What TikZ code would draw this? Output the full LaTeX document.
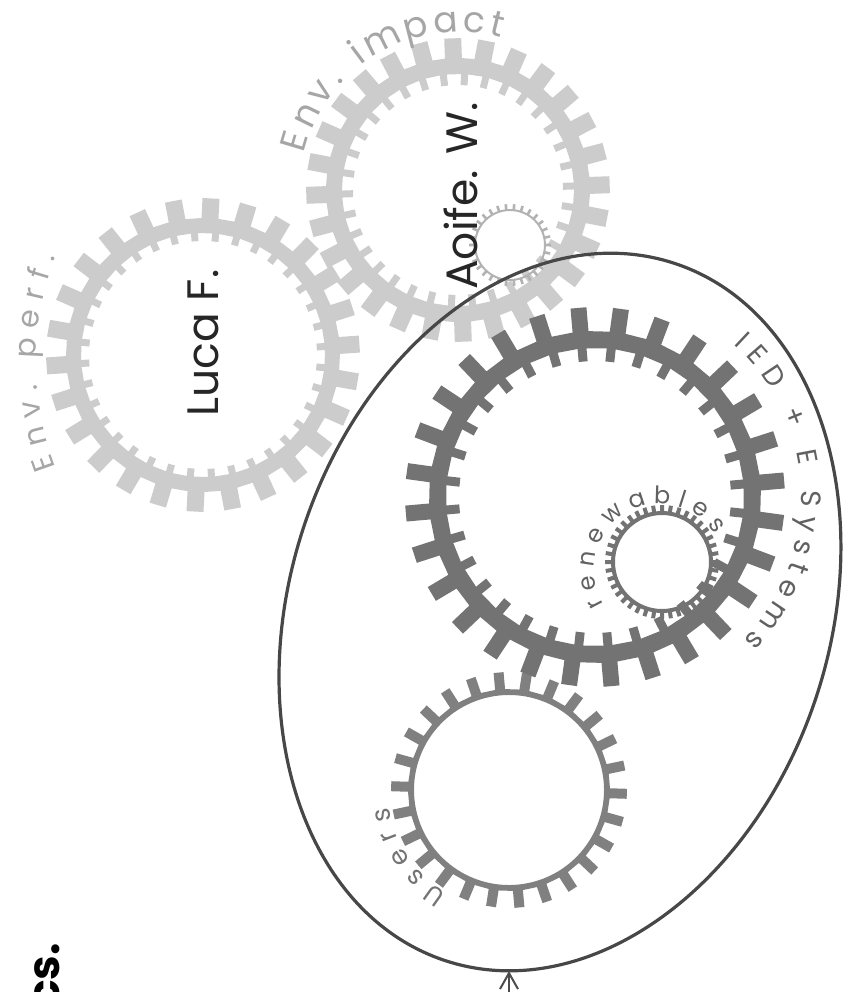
\documentclass[tikz,border=0pt]{standalone}
\usepackage{fontspec}
\setmainfont{Poppins}
\usetikzlibrary{arrows.meta}

% ring of square teeth: #1 teeth, #2 root radius, #3 tip radius, #4 half width
\newcommand{\gearteeth}[4]{({-deg(#4/#2)}:#2)
    \foreach \k in {1,...,#1}{
        -- ({(\k-1)*360/#1-deg(#4/#2)}:#2) -- ({(\k-1)*360/#1-deg(#4/#3)}:#3)
        -- ({(\k-1)*360/#1+deg(#4/#3)}:#3) -- ({(\k-1)*360/#1+deg(#4/#2)}:#2)}
    -- cycle}

% letters spread clockwise round an arc (1 unit = 0.5pt): #1 centre, #2 radius,
% #3 start angle, #4 end angle, #5 font size, #6 colour, #7 name, #8 letter/width(em)
\newcommand{\arctext}[8]{%
    \xdef\arcsum{0}\xdef\arcnum{0}%
    \foreach \ch/\ew in {#8}{%
        \pgfmathsetmacro\arcw{\arcsum+\ew*#5}\xdef\arcsum{\arcw}%
        \pgfmathtruncatemacro\arcc{\arcnum+1}\xdef\arcnum{\arcc}}%
    \pgfmathsetmacro\arclen{(#3-#4)*pi/180*#2*0.5}%
    \pgfmathsetmacro\arcgap{(\arclen-\arcsum)/\arcnum}%
    \xdef\arcpos{0}%
    \foreach \ch/\ew [count=\n] in {#8}{%
        \pgfmathsetmacro\arcang{#3-(\arcpos+0.5*\ew*#5+(\n-0.5)*\arcgap)/\arclen*(#3-#4)}%
        \node[arc letter=#6, font=\fontsize{#5}{#5}\selectfont, rotate=\arcang-90]
            (#7\n) at ([shift={(\arcang:#2)}]#1) {\ch};
        \pgfmathsetmacro\arcw{\arcpos+\ew*#5}\xdef\arcpos{\arcw}}}

\begin{document}
\begin{tikzpicture}[
        x=0.5pt, y=0.5pt,
        light gear/.style = {fill=black!20, even odd rule},
        dark gear/.style  = {fill=black!55, even odd rule},
        arc letter/.style = {anchor=base, inner sep=0pt, text=#1},
        name text/.style  = {rotate=90, text=black!85, inner sep=0pt}]
    \useasboundingbox (0,0) rectangle (844,-992);

    \coordinate (luca)  at (203,-355);
    \coordinate (aoife) at (458,-190);
    \coordinate (aoifesmall) at (510,-245);
    \coordinate (ied)   at (595,-497);
    \coordinate (ren)   at (662,-562);
    \coordinate (rentext) at (660,-570);
    \coordinate (users) at (509,-790);
    \coordinate (perf)  at (330,-362);
    \coordinate (ell)   at (560,-612);

    % light gears
    \fill[light gear, shift={(luca)}, rotate=4]  \gearteeth{26}{137}{157}{8.5} \gearteeth{36}{122}{114}{3.5};
    \fill[light gear, shift={(aoife)}, rotate=2] \gearteeth{28}{132}{152}{8.5} \gearteeth{34}{116}{105}{3.5};
    \fill[fill=black!30, even odd rule, shift={(aoifesmall)}] \gearteeth{30}{36}{41}{1.3} (0,0) circle[radius=34];

    \arctext{aoife}{158}{168}{73}{18}{black!35}{impact}
        {E/.56,n/.62,v/.53,./.25,~/.27,i/.26,m/.95,p/.64,a/.64,c/.57,t/.37}
    \arctext{perf}{294}{202}{158}{15}{black!35}{perf}
        {E/.56,n/.62,v/.53,./.25,~/.27,p/.64,e/.61,r/.39,f/.35,./.25}

    \node[name text, font=\fontsize{22}{26}\selectfont] (lucaname) at (203,-343) {Luca F.};
    \node[name text, font=\fontsize{22}{26}\selectfont] (aoifename) at (461,-196) {Aoife. W.};

    % scope
    \draw[line width=1.6pt, black!72, rotate around={71.85:(ell)}]
        (ell) ellipse [x radius=367, y radius=270];

    % dark gears
    \fill[fill=black!50, even odd rule, shift={(users)}, rotate=12] \gearteeth{26}{101}{118}{5} (0,0) circle[radius=95];
    \fill[dark gear, shift={(ied)}, rotate=5] \gearteeth{28}{166}{190}{8} \gearteeth{32}{149}{136}{4.5};
    \fill[dark gear, shift={(ren)}] \gearteeth{40}{51}{57}{2} (0,0) circle[radius=47];

    \arctext{ied}{206}{49}{-45}{14}{black!62}{system}
        {I/.27,E/.56,D/.72,~/.27,+/.6,~/.27,E/.56,~/.27,S/.58,y/.53,s/.5,t/.37,e/.61,m/.95,s/.5}
    \arctext{rentext}{66}{215}{30}{12}{black!62}{renew}
        {r/.39,e/.61,n/.62,e/.61,w/.85,a/.64,b/.64,l/.26,e/.61,s/.5}
    \arctext{users}{121}{241}{186}{13}{black!55}{user}
        {U/.67,s/.5,e/.61,r/.39,s/.5}

    \node[rotate=90, anchor=base east, inner sep=0pt, font=\bfseries\fontsize{22}{26}\selectfont] (cs) at (59,-943) {cs.};

    \coordinate (bot)  at (509,-971);
    \coordinate (tail) at (509,-1000);
    \draw[black!70, line width=1pt, -{Straight Barb[length=8pt, width=9pt]}] (tail) -- (bot);
\end{tikzpicture}
\end{document}
